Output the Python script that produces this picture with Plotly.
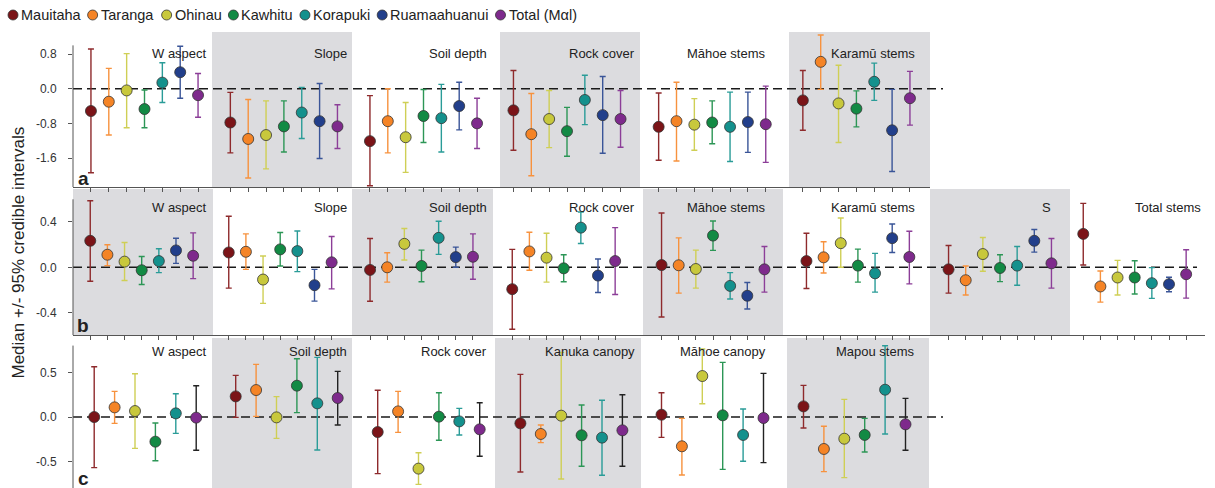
import plotly.graph_objects as go

# ---------------- data ----------------
SERIES = ["Mauitaha", "Taranga", "Ohinau", "Kawhitu", "Korapuki", "Ruamaahuanui", "Total (Mαl)"]
C_SERIES = ["Mauitaha", "Taranga", "Ohinau", "Kawhitu", "Korapuki", "Total (Mαl)"]

A_PANELS = ["W aspect", "Slope", "Soil depth", "Rock cover", "Māhoe stems", "Karamū stems"]
A_MED = {
    "Mauitaha": [-0.515, -0.78, -1.21, -0.50, -0.88, -0.27],
    "Taranga": [-0.30, -1.16, -0.75, -1.05, -0.75, 0.62],
    "Ohinau": [-0.04, -1.07, -1.12, -0.70, -0.83, -0.34],
    "Kawhitu": [-0.47, -0.87, -0.63, -0.98, -0.78, -0.46],
    "Korapuki": [0.14, -0.55, -0.68, -0.26, -0.88, 0.16],
    "Ruamaahuanui": [0.38, -0.75, -0.40, -0.61, -0.77, -0.96],
    "Total (Mαl)": [-0.15, -0.87, -0.80, -0.70, -0.82, -0.22],
}
A_LOW = {
    "Mauitaha": [-1.94, -1.48, -2.24, -1.42, -1.65, -0.96],
    "Taranga": [-1.07, -2.06, -1.48, -2.01, -1.67, -0.015],
    "Ohinau": [-0.90, -1.85, -1.93, -1.36, -1.42, -1.24],
    "Kawhitu": [-0.90, -1.46, -1.24, -1.56, -1.27, -0.88],
    "Korapuki": [-0.32, -1.15, -1.46, -0.83, -1.68, -0.27],
    "Ruamaahuanui": [-0.22, -1.61, -0.95, -1.49, -1.47, -1.91],
    "Total (Mαl)": [-0.66, -1.38, -1.38, -1.35, -1.70, -0.84],
}
A_UP = {
    "Mauitaha": [0.915, -0.085, -0.16, 0.42, -0.10, 0.42],
    "Taranga": [0.47, -0.25, 0.0, -0.11, 0.15, 1.24],
    "Ohinau": [0.81, -0.28, -0.32, -0.04, -0.23, 0.54],
    "Kawhitu": [-0.03, -0.28, -0.02, -0.43, -0.28, -0.05],
    "Korapuki": [0.60, 0.03, 0.10, 0.31, -0.08, 0.59],
    "Ruamaahuanui": [0.98, 0.12, 0.15, 0.28, -0.08, -0.015],
    "Total (Mαl)": [0.35, -0.37, -0.22, -0.04, 0.06, 0.40],
}

B_PANELS = ["W aspect", "Slope", "Soil depth", "Rock cover", "Māhoe stems", "Karamū stems", "S", "Total stems"]
B_MED = {
    "Mauitaha": [0.234, 0.131, -0.023, -0.193, 0.02, 0.055, -0.018, 0.295],
    "Taranga": [0.111, 0.137, 0.0, 0.14, 0.018, 0.088, -0.114, -0.169],
    "Ohinau": [0.05, -0.108, 0.207, 0.085, -0.015, 0.213, 0.117, -0.09],
    "Kawhitu": [-0.026, 0.158, 0.012, -0.009, 0.28, 0.015, -0.006, -0.09],
    "Korapuki": [0.055, 0.143, 0.26, 0.35, -0.164, -0.053, 0.015, -0.14],
    "Ruamaahuanui": [0.149, -0.158, 0.09, -0.073, -0.251, 0.257, 0.234, -0.149],
    "Total (Mαl)": [0.102, 0.044, 0.093, 0.055, -0.018, 0.091, 0.035, -0.061],
}
B_LOW = {
    "Mauitaha": [-0.123, -0.184, -0.30, -0.546, -0.438, -0.187, -0.228, 0.02],
    "Taranga": [0.015, -0.018, -0.131, -0.026, -0.228, -0.05, -0.245, -0.307],
    "Ohinau": [-0.117, -0.318, 0.064, -0.131, -0.184, 0.0, -0.035, -0.245],
    "Kawhitu": [-0.152, 0.012, -0.128, -0.128, 0.149, -0.131, -0.126, -0.236],
    "Korapuki": [-0.047, -0.038, 0.114, 0.21, -0.28, -0.219, -0.158, -0.274],
    "Ruamaahuanui": [0.035, -0.298, 0.0, -0.222, -0.368, 0.131, 0.134, -0.216],
    "Total (Mαl)": [-0.10, -0.19, -0.105, -0.24, -0.219, -0.146, -0.184, -0.272],
}
B_UP = {
    "Mauitaha": [0.587, 0.45, 0.254, 0.158, 0.479, 0.30, 0.193, 0.564],
    "Taranga": [0.199, 0.295, 0.128, 0.31, 0.26, 0.225, 0.012, -0.032],
    "Ohinau": [0.219, 0.10, 0.342, 0.30, 0.152, 0.435, 0.263, 0.061],
    "Kawhitu": [0.096, 0.307, 0.152, 0.111, 0.409, 0.16, 0.111, 0.058],
    "Korapuki": [0.164, 0.321, 0.406, 0.488, -0.047, 0.123, 0.184, -0.003],
    "Ruamaahuanui": [0.257, -0.018, 0.178, 0.073, -0.134, 0.382, 0.333, -0.088],
    "Total (Mαl)": [0.304, 0.272, 0.295, 0.35, 0.184, 0.318, 0.254, 0.155],
}

C_PANELS = ["W aspect", "Soil depth", "Rock cover", "Kanuka canopy", "Māhoe canopy", "Mapou stems"]
C_MED = {
    "Mauitaha": [0.0, 0.231, -0.168, -0.071, 0.026, 0.119],
    "Taranga": [0.108, 0.302, 0.063, -0.19, -0.328, -0.358],
    "Ohinau": [0.067, -0.004, -0.578, 0.015, 0.459, -0.243],
    "Kawhitu": [-0.276, 0.351, 0.004, -0.205, 0.019, -0.201],
    "Korapuki": [0.041, 0.153, -0.049, -0.231, -0.201, 0.306],
    "Total (Mαl)": [-0.007, 0.213, -0.138, -0.149, -0.011, -0.082],
}
C_LOW = {
    "Mauitaha": [-0.567, -0.004, -0.634, -0.616, -0.228, -0.123],
    "Taranga": [-0.071, 0.007, -0.172, -0.287, -0.649, -0.612],
    "Ohinau": [-0.351, -0.239, -0.754, -0.694, 0.149, -0.679],
    "Kawhitu": [-0.489, 0.049, -0.261, -0.552, -0.586, -0.392],
    "Korapuki": [-0.183, -0.369, -0.201, -0.653, -0.496, -0.19],
    "Total (Mαl)": [-0.373, -0.09, -0.44, -0.552, -0.511, -0.373],
}
C_UP = {
    "Mauitaha": [0.563, 0.466, 0.299, 0.478, 0.272, 0.354],
    "Taranga": [0.287, 0.59, 0.287, -0.09, -0.015, -0.104],
    "Ohinau": [0.485, 0.228, -0.40, 0.724, 0.761, 0.198],
    "Kawhitu": [-0.067, 0.653, 0.272, 0.134, 0.612, -0.015],
    "Korapuki": [0.261, 0.668, 0.097, 0.187, 0.09, 0.799],
    "Total (Mαl)": [0.351, 0.511, 0.16, 0.25, 0.489, 0.209],
}

A_TICKS = [0.8, 0.0, -0.8, -1.6]
B_TICKS = [0.4, 0.0, -0.4]
C_TICKS = [0.5, 0.0, -0.5]

# ---------------- styles ----------------
COLORS = {
    "Mauitaha": "#7b1418",
    "Taranga": "#f58426",
    "Ohinau": "#c8c83c",
    "Kawhitu": "#128a44",
    "Korapuki": "#14918d",
    "Ruamaahuanui": "#223f8b",
    "Total (Mαl)": "#7e2a8c",
}
ERR_COLORS = {
    "Mauitaha": "#8e2a2c",
    "Taranga": "#f7923e",
    "Ohinau": "#cfcf55",
    "Kawhitu": "#2c9656",
    "Korapuki": "#2a9c98",
    "Ruamaahuanui": "#3a5598",
    "Total (Mαl)": "#8c3e98",
}
GREY = "#dcdcdf"
AXIS = "#555555"
FONT = "Liberation Sans, Arial, sans-serif"
FIG_W, FIG_H = 1215, 488


def px(x):
    return x / FIG_W


def py(y):
    return 1 - y / FIG_H


ROWS = [
    dict(letter="a", panels=A_PANELS, series=SERIES, med=A_MED, low=A_LOW, up=A_UP, ticks=A_TICKS,
         centers=[144.5, 283.9, 423.5, 567, 712.2, 856.4], spacing=17.85,
         edges=[73, 212, 352, 500, 640, 789, 930], grey_first=1,
         top=32, bottom=187, yr=[-2.2686, 1.3085], axis_top=1.0,
         title_y=54, letter_y=178, zero_end=943, xend=930, xline=True, total_err=None),
    dict(letter="b", panels=B_PANELS, series=SERIES, med=B_MED, low=B_LOW, up=B_UP, ticks=B_TICKS,
         centers=[141.7, 280.2, 421.5, 563.7, 713, 857.9, 1000, 1134.7], spacing=17.15,
         edges=[73, 213, 352, 493, 643, 783, 930, 1070, 1205], grey_first=0,
         top=189, bottom=335.3, yr=[-0.600, 0.691], axis_top=0.6,
         title_y=207.7, letter_y=325.7, zero_end=1197, xend=1205, xline=True, total_err=None),
    dict(letter="c", panels=C_PANELS, series=C_SERIES, med=C_MED, low=C_LOW, up=C_UP, ticks=C_TICKS,
         centers=[145.2, 286.7, 428.7, 571.4, 712.5, 854.5], spacing=20.4,
         edges=[73, 212, 352, 495, 641, 787, 929], grey_first=1,
         top=338, bottom=488, yr=[-0.795, 0.885], axis_top=0.8,
         title_y=351.7, letter_y=478, zero_end=943, xend=929, xline=False, total_err="#222222"),
]
TITLE_RIGHT = [208.5, 349, 488.5, 637, 768, 917, 1053, 1203]

fig = go.Figure()
shapes, annotations = [], []
layout_axes = {}

for r, row in enumerate(ROWS):
    sfx = "" if r == 0 else str(r + 1)
    xa, ya = "x" + sfx, "y" + sfx
    series = row["series"]
    n = len(series)
    edges = row["edges"]

    # panel backgrounds
    for k in range(len(edges) - 1):
        if (k - row["grey_first"]) % 2 == 0:
            shapes.append(dict(type="rect", xref="paper", yref="paper",
                               x0=px(edges[k]), x1=px(edges[k + 1]),
                               y0=py(row["bottom"]), y1=py(row["top"]),
                               fillcolor=GREY, line=dict(width=0), layer="below"))
    # dashed zero line
    shapes.append(dict(type="line", xref="paper", yref=ya, x0=px(73), x1=px(row["zero_end"]),
                       y0=0, y1=0, line=dict(color="#1a1a1a", width=1.6, dash="9px,5px"), layer="below"))
    # y axis line
    shapes.append(dict(type="line", xref="paper", yref=ya, x0=px(73), x1=px(73),
                       y0=row["yr"][0], y1=row["axis_top"], line=dict(color=AXIS, width=1)))

    all_x = []
    for i, s in enumerate(series):
        xs = [c + (i - (n - 1) / 2) * row["spacing"] for c in row["centers"]]
        all_x += xs
        med, lo, up = row["med"][s], row["low"][s], row["up"][s]
        ecol = ERR_COLORS[s]
        if s == "Total (Mαl)" and row["total_err"]:
            ecol = row["total_err"]
        fig.add_trace(go.Scatter(
            x=xs, y=med, mode="markers", xaxis=xa, yaxis=ya, name=s, showlegend=False,
            cliponaxis=False,
            marker=dict(size=11, color=COLORS[s], line=dict(width=0.8, color="#333333")),
            error_y=dict(type="data", symmetric=False,
                         array=[u - m for u, m in zip(up, med)],
                         arrayminus=[m - l for m, l in zip(med, lo)],
                         color=ecol, thickness=1.4, width=3),
        ))

    layout_axes["xaxis" + sfx] = dict(
        domain=[px(73), px(row["xend"])], range=[73, row["xend"]], anchor=ya,
        showgrid=False, zeroline=False, showline=row["xline"], linecolor=AXIS, linewidth=1,
        ticks="outside" if row["xline"] else "", tickvals=sorted(all_x), ticklen=4,
        tickcolor=AXIS, tickwidth=1, showticklabels=False, fixedrange=True)
    layout_axes["yaxis" + sfx] = dict(
        domain=[py(row["bottom"]), py(row["top"])], range=row["yr"], anchor=xa,
        showgrid=False, zeroline=False, showline=False, ticks="outside",
        tickvals=row["ticks"], ticktext=[f"{t:.1f}" for t in row["ticks"]],
        ticklen=4, tickcolor=AXIS, tickwidth=1, ticklabelstandoff=9,
        tickfont=dict(size=12, color="#333333", family=FONT), fixedrange=True)

    # panel titles
    for k, name in enumerate(row["panels"]):
        annotations.append(dict(text=name, x=px(TITLE_RIGHT[k]), y=py(row["title_y"]),
                                xref="paper", yref="paper", xanchor="right", yanchor="middle",
                                showarrow=False, font=dict(size=13, color="#222222", family=FONT)))
    # panel letter
    annotations.append(dict(text="<b>" + row["letter"] + "</b>", x=px(83), y=py(row["letter_y"]),
                            xref="paper", yref="paper", xanchor="center", yanchor="middle",
                            showarrow=False, font=dict(size=19, color="#222222", family=FONT)))

# y-axis title
annotations.append(dict(text="Median +/- 95% credible intervals", x=px(18), y=py(252.5),
                        xref="paper", yref="paper", textangle=-90, showarrow=False,
                        xanchor="center", yanchor="middle",
                        font=dict(size=17, color="#222222", family=FONT)))

# custom legend
ARIAL_W = {'M': .833, 'a': .556, 'u': .556, 'i': .222, 't': .278, 'h': .556, 'T': .611, 'r': .333,
           'n': .556, 'g': .556, 'O': .778, 'K': .667, 'w': .722, 'o': .556, 'p': .556, 'k': .5,
           'R': .722, 'm': .833, 'l': .222, ' ': .278, '(': .333, ')': .333, 'α': .578}
LEG_FS = 14.5
LEG_Y = 15
LEG_R = 5
cx = 13
for s in SERIES:
    shapes.append(dict(type="circle", xref="paper", yref="paper",
                       x0=px(cx - LEG_R), x1=px(cx + LEG_R), y0=py(LEG_Y + LEG_R), y1=py(LEG_Y - LEG_R),
                       fillcolor=COLORS[s], line=dict(color="#333333", width=0.8)))
    tw = sum(ARIAL_W.get(ch, .556) for ch in s) * LEG_FS
    annotations.append(dict(text=s, x=px(cx + LEG_R + 2), y=py(LEG_Y), xref="paper", yref="paper",
                            xanchor="left", yanchor="middle", showarrow=False, borderpad=0,
                            font=dict(size=LEG_FS, color="#222222", family=FONT)))
    cx += LEG_R + 2 + tw + 8 + LEG_R

fig.update_layout(
    width=FIG_W, height=FIG_H, margin=dict(l=0, r=0, t=0, b=0),
    paper_bgcolor="white", plot_bgcolor="rgba(0,0,0,0)",
    shapes=shapes, annotations=annotations, showlegend=False,
    font=dict(family=FONT), **layout_axes,
)

fig.write_html("out.html", config={"displayModeBar": False},
               post_script="document.body.style.margin='0';document.body.style.overflow='hidden';")
